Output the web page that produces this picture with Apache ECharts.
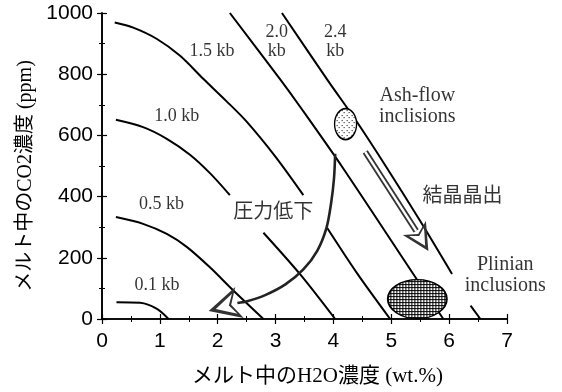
<!DOCTYPE html>
<html><head><meta charset="utf-8">
<script src="https://cdn.jsdelivr.net/npm/echarts@6/dist/echarts.min.js"></script>
<style>html,body{margin:0;padding:0;background:#fff}#c{width:562px;height:392px}</style>
</head><body><div id="c"></div>
<script>
// Isobars [H2O wt.%, CO2 ppm]
const isobar01 = [[0.25,55],[0.66,53],[0.95,33],[1.15,0]];
const isobar05 = [[0.24,333],[0.71,311],[1.12,278],[1.47,235],[1.87,168],[2.27,93],[2.79,0]];
const isobar10a = [[0.24,651],[0.71,627],[1.12,589],[1.52,537],[1.87,476],[2.21,405]];
const isobar10b = [[2.79,282],[3.43,145],[4.03,0]];
const isobar15a = [[0.22,969],[0.54,952],[0.95,915],[1.35,860],[1.75,785],[2.15,712],[2.50,645],[3.0,530],[3.48,405]];
const isobar15b = [[3.89,298],[4.41,149],[4.98,0]];
const isobar20 = [[2.21,1000],[3.08,783],[3.43,692],[4.17,492],[5.44,130],[5.9,0]];
const isobar24a = [[3.11,1000],[3.89,783],[4.41,643],[4.93,492],[5.50,320],[6.05,147]];
const isobar24b = [[6.37,44],[6.54,0]];
// Inclusion fields (centres)
const ashFlow = [[4.21,637]];
const plinian = [[5.45,65]];
// Arrows
const pressureArrow = [[4.03,540],[4.01,460],[3.96,379],[3.88,298],[3.72,223],[3.48,162],[3.17,113],[2.82,78],[2.51,58],[2.34,52]];
const pressureHead = [[2.34,52],[2.11,40]];
const crystalArrow = [[4.55,546],[5.43,288]];
const crystalHead = [[5.43,288],[5.52,260]];
// Text annotations
const kbText = ['0.1 kb','0.5 kb','1.0 kb','1.5 kb','2.0\nkb','2.4\nkb'];
const kbPos = [[0.95,110],[1.03,375],[1.29,662],[1.90,875],[3.02,905],[4.03,905]];
const noteText = ['Ash-flow\ninclisions','Plinian\ninclusions','結晶晶出','圧力低下'];
const notePos = [[5.45,695],[6.97,142],[6.23,400],[2.96,346]];
const xTicks = [0,1,2,3,4,5,6,7];
const yTicks = [0,200,400,600,800,1000];

// symbol sizes in px (style only)
const ashSize = [22,31];
const plinSize = [59,39];

function makePattern(w,h,fn){const c=document.createElement('canvas');c.width=w;c.height=h;fn(c.getContext('2d'));return c;}
const dotPat = makePattern(5,5,g=>{g.fillStyle='#fff';g.fillRect(0,0,5,5);g.fillStyle='#000';g.fillRect(1,1,1,1);g.fillRect(3,3,1,1);});
const hatchPat = makePattern(3,3,g=>{g.fillStyle='#000';g.fillRect(0,0,3,3);g.fillStyle='#fff';g.fillRect(1,1,2,2);});
function pat(img,size){return {image:img,repeat:'repeat',scaleX:2/size[0],scaleY:2/size[1]};}

const SERIF = "'Liberation Serif','Noto Sans CJK JP'";
const hollowArrow = 'path://M10,0 L20,26 L10,19 L0,26 Z M10,6 L3.5,22 L10,17 L16.5,22 Z';

function iso(data){return {type:'line',data:data,symbol:'none',smooth:0.3,lineStyle:{color:'#000',width:2},z:2,silent:true};}

const chart = echarts.init(document.getElementById('c'),null,{renderer:'canvas'});
const axisCommon = {
  type:'value',
  axisLine:{show:true,lineStyle:{color:'#000',width:1.6}},
  axisTick:{show:true,inside:true,length:5,lineStyle:{color:'#000',width:1.2}},
  minorTick:{show:true,splitNumber:2,length:3,lineStyle:{color:'#000',width:1}},
  splitLine:{show:false}
};
chart.setOption({
  animation:false,
  backgroundColor:'#fff',
  grid:{left:102,right:55,top:13,bottom:70,containLabel:false},
  xAxis:[
    Object.assign({},axisCommon,{min:xTicks[0],max:xTicks[xTicks.length-1],interval:1,position:'bottom',
      axisLabel:{color:'#000',fontSize:21,fontFamily:'Liberation Sans',margin:12,formatter:v=>String(v)},
      name:'メルト中のH2O濃度 (wt.%)',nameLocation:'middle',nameGap:47,
      nameTextStyle:{color:'#000',fontSize:21,fontFamily:SERIF,padding:[0,0,0,26]}}),
    Object.assign({},axisCommon,{min:xTicks[0],max:xTicks[xTicks.length-1],interval:1,position:'top',axisLabel:{show:false}})
  ],
  yAxis:[
    Object.assign({},axisCommon,{min:yTicks[0],max:yTicks[yTicks.length-1],interval:200,position:'left',
      axisLabel:{color:'#000',fontSize:21,fontFamily:'Liberation Sans',margin:9,formatter:v=>String(v)},
      name:'メルト中のCO2濃度 (ppm)',nameLocation:'middle',nameGap:66,
      nameTextStyle:{color:'#000',fontSize:20,fontFamily:SERIF,padding:[0,20,0,0]}}),
    Object.assign({},axisCommon,{min:yTicks[0],max:yTicks[yTicks.length-1],interval:200,position:'right',axisLabel:{show:false}})
  ],
  series:[
    iso(isobar01),iso(isobar05),iso(isobar10a),iso(isobar10b),iso(isobar15a),iso(isobar15b),
    iso(isobar20),iso(isobar24a),iso(isobar24b),
    {type:'line',data:pressureArrow,symbol:'none',smooth:0.3,lineStyle:{color:'#222',width:2.6},z:4},
    {type:'lines',coordinateSystem:'cartesian2d',data:[{coords:pressureHead}],symbol:['none',hollowArrow],symbolSize:[20,32],
      lineStyle:{color:'#333',width:0,opacity:1},z:5},
    {type:'line',data:crystalArrow,symbol:'none',lineStyle:{color:'#333',width:6},z:4},
    {type:'line',data:crystalArrow,symbol:'none',lineStyle:{color:'#fff',width:2.4},z:5},
    {type:'lines',coordinateSystem:'cartesian2d',data:[{coords:crystalHead}],symbol:['none',hollowArrow],symbolSize:[19,27],
      lineStyle:{color:'#333',width:0,opacity:1},z:5},
    {type:'scatter',data:ashFlow,symbol:'circle',symbolSize:ashSize,
      itemStyle:{color:pat(dotPat,ashSize),borderColor:'#000',borderWidth:1.6,opacity:1},z:6},
    {type:'scatter',data:plinian,symbol:'circle',symbolSize:plinSize,
      itemStyle:{color:pat(hatchPat,plinSize),borderColor:'#000',borderWidth:1.6,opacity:1},z:6},
    {type:'scatter',symbolSize:0,clip:false,z:10,
      data:kbPos.map((p,i)=>({value:p,name:kbText[i]})),
      label:{show:true,position:'inside',formatter:'{b}',color:'#000',fontSize:18,lineHeight:19,fontFamily:SERIF,align:'center'}},
    {type:'scatter',symbolSize:0,clip:false,z:10,
      data:notePos.map((p,i)=>({value:p,name:noteText[i]})),
      label:{show:true,position:'inside',formatter:'{b}',color:'#000',fontSize:20,lineHeight:21,fontFamily:SERIF,align:'center'}}
  ]
});
</script></body></html>
